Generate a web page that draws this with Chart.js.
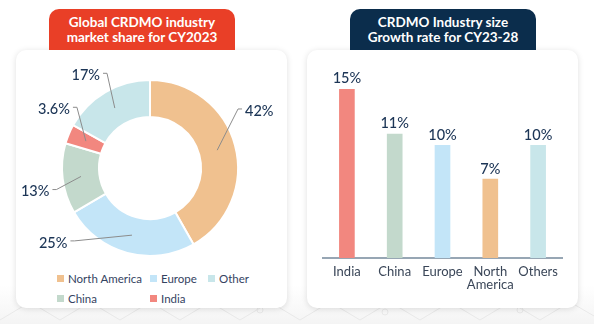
<!DOCTYPE html>
<html>
<head>
<meta charset="utf-8">
<script src="https://cdn.jsdelivr.net/npm/chart.js@4.4.1/dist/chart.umd.min.js"></script>
<style>
  body { margin: 0; width: 594px; height: 324px; position: relative; overflow: hidden; font-family: Lato, sans-serif;
    background: linear-gradient(to bottom, #ffffff 0, #ffffff 285px, #f4f4f4 324px); }
  #pattern { position: absolute; left: 0; top: 280px; z-index: 0; }
  .card { position: absolute; top: 50px; height: 258px; width: 271px; background: #fff; border-radius: 10px; box-shadow: 0 1px 6px rgba(0, 0, 0, 0.13); z-index: 1; }
  #left-card { left: 16px; }
  #right-card { left: 307px; }
  .tab { position: absolute; top: 9px; height: 41px; width: 186px; border-radius: 10px 10px 0 0; color: #fff; font-weight: 700; font-size: 13.5px; line-height: 15px; text-align: center; display: flex; align-items: center; justify-content: center; z-index: 2; }
  #left-tab { left: 49px; background: #e93f27; }
  #right-tab { left: 350px; background: #0b2d4c; }
  canvas { position: absolute; z-index: 3; }
  #share-canvas { left: 0; top: 55px; }
  #growth-canvas { left: 300px; top: 55px; }
  #share-legend { position: absolute; left: 57px; top: 270px; display: grid; grid-template-columns: 93px 58px auto; row-gap: 4px; z-index: 3; font-size: 11.5px; color: #34435f; white-space: nowrap; }
  .legend-item { display: flex; align-items: center; height: 16px; }
  .legend-box { width: 7px; height: 7px; margin-right: 4px; }
</style>
</head>
<body>
<!-- faint molecule lines behind the cards -->
<svg id="pattern" width="594" height="44" fill="none" stroke="#e9e9e9" stroke-width="1">
  <polyline points="0,40 30,22 60,40 90,22 120,40 150,22 180,40 210,22 240,40 270,22 300,40 330,22 360,40 390,22 420,40 450,22 480,40 510,22 540,40 570,22 594,36" />
  <polyline points="30,22 30,0 M90,22 90,0" />
  <circle cx="260" cy="30" r="3" />
  <circle cx="385" cy="32" r="3" />
  <circle cx="520" cy="30" r="3" />
</svg>
<div class="card" id="left-card"></div>
<div class="card" id="right-card"></div>
<div class="tab" id="left-tab">Global CRDMO industry<br>market share for CY2023</div>
<div class="tab" id="right-tab">CRDMO Industry size<br>Growth rate for CY23-28</div>
<canvas id="share-canvas" width="300" height="210"></canvas>
<canvas id="growth-canvas" width="294" height="253"></canvas>
<div id="share-legend"></div>

<script>
// Market share CY2023 (%), clockwise from the top
const shareRegions = ["North America", "Europe", "China", "India", "Other"];
const shareValues = [42, 25, 13, 3.6, 17];
const shareColors = ["#f0c18f", "#c3e5f8", "#c3d9cc", "#f2877f", "#c8e6ea"];

// Order of entries in the legend
const legendOrder = ["North America", "Europe", "Other", "China", "India"];

// Growth rate CY23-28 (%)
const growthRegions = ["India", "China", "Europe", ["North", "America"], "Others"];
const growthValues = [15, 11, 10, 7, 10];
const growthColors = ["#f2877f", "#c3d9cc", "#c3e5f8", "#f0c18f", "#c8e6ea"];

const labelColor = "#1c3556";

// Leader lines + percentage text outside the doughnut
const sliceLabels = {
  id: "sliceLabels",
  afterDatasetsDraw(chart, args, opts) {
    const ctx = chart.ctx;
    const meta = chart.getDatasetMeta(0);
    const values = chart.data.datasets[0].data;
    ctx.save();
    meta.data.forEach((arc, i) => {
      const p = arc.getProps(["x", "y", "startAngle", "endAngle", "innerRadius", "outerRadius"], true);
      const mid = (p.startAngle + p.endAngle) / 2;
      const rMid = (p.innerRadius + p.outerRadius) / 2;
      const sx = p.x + Math.cos(mid) * rMid;
      const sy = p.y + Math.sin(mid) * rMid;
      const nudge = opts.nudges[i];
      const a = mid + (nudge[0] * Math.PI) / 180;
      const ex = p.x + Math.cos(a) * nudge[1];
      const ey = p.y + Math.sin(a) * nudge[1];
      const right = ex > p.x;
      const tx = ex + (right ? 4 : -4);

      ctx.strokeStyle = "#8c8c8c";
      ctx.lineWidth = 1;
      ctx.beginPath();
      ctx.moveTo(sx, sy);
      ctx.lineTo(ex, ey);
      ctx.lineTo(tx, ey);
      ctx.stroke();

      ctx.fillStyle = labelColor;
      ctx.font = "500 14.5px Lato";
      ctx.textAlign = right ? "left" : "right";
      ctx.textBaseline = "middle";
      ctx.fillText(values[i] + "%", tx + (right ? 3 : -3), ey + 2);
    });
    ctx.restore();
  },
};

// Value text above each bar
const barValues = {
  id: "barValues",
  afterDatasetsDraw(chart) {
    const ctx = chart.ctx;
    const meta = chart.getDatasetMeta(0);
    const values = chart.data.datasets[0].data;
    ctx.save();
    ctx.fillStyle = labelColor;
    ctx.font = "500 14.5px Lato";
    ctx.textAlign = "center";
    ctx.textBaseline = "bottom";
    meta.data.forEach((bar, i) => {
      ctx.fillText(values[i] + "%", bar.x, bar.y - 3);
    });
    ctx.restore();
  },
};

new Chart(document.getElementById("share-canvas"), {
  type: "doughnut",
  data: {
    labels: shareRegions,
    datasets: [
      {
        data: shareValues,
        backgroundColor: shareColors,
        borderColor: "#ffffff",
        borderWidth: 2,
      },
    ],
  },
  options: {
    responsive: false,
    animation: false,
    cutout: "58%",
    layout: { padding: { top: 24, bottom: 8, left: 61, right: 61 } },
    plugins: {
      legend: { display: false },
      tooltip: { enabled: false },
      sliceLabels: {
        // [angle shift in degrees, distance from centre]
        nudges: [
          [-19, 106],
          [31, 105],
          [-6, 96],
          [17, 95],
          [6, 104],
        ],
      },
    },
  },
  plugins: [sliceLabels],
});

// HTML legend for the doughnut
const legendEl = document.getElementById("share-legend");
legendOrder.forEach((name) => {
  const idx = shareRegions.indexOf(name);
  const item = document.createElement("div");
  item.className = "legend-item";
  const box = document.createElement("span");
  box.className = "legend-box";
  box.style.background = shareColors[idx];
  item.appendChild(box);
  item.appendChild(document.createTextNode(name));
  legendEl.appendChild(item);
});

new Chart(document.getElementById("growth-canvas"), {
  type: "bar",
  data: {
    labels: growthRegions,
    datasets: [
      {
        data: growthValues,
        backgroundColor: growthColors,
        barThickness: 15,
      },
    ],
  },
  options: {
    responsive: false,
    animation: false,
    layout: { padding: { top: 34, bottom: 10, left: 23, right: 32 } },
    plugins: {
      legend: { display: false },
      tooltip: { enabled: false },
    },
    scales: {
      x: {
        grid: { display: false, drawTicks: false },
        border: { display: true, color: "#97a6b4", width: 2 },
        ticks: {
          color: "#3a4658",
          font: { family: "Lato", size: 13, lineHeight: 0.95 },
          padding: 8,
          maxRotation: 0,
          autoSkip: false,
        },
        afterFit: (scale) => {
          scale.height = 40;
        },
      },
      y: {
        display: false,
        min: 0,
        max: 15,
      },
    },
  },
  plugins: [barValues],
});
</script>
</body>
</html>
